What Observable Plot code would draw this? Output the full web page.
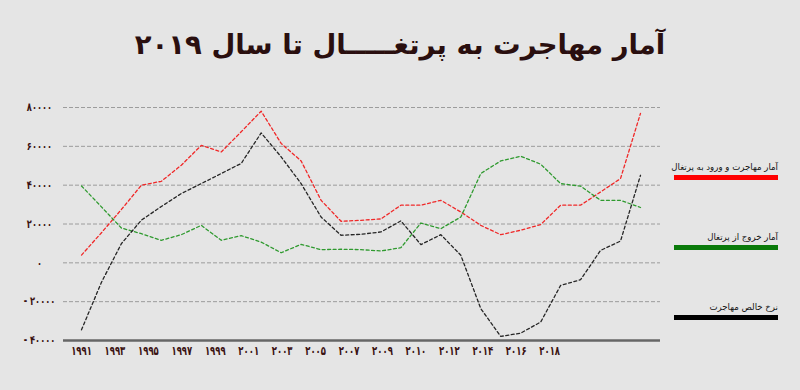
<!DOCTYPE html>
<html><head><meta charset="utf-8">
<script src="https://cdn.jsdelivr.net/npm/d3@7"></script>
<script src="https://cdn.jsdelivr.net/npm/@observablehq/plot@0.6"></script>
<style>
html,body{margin:0;padding:0;background:#e5e5e5;}
#wrap{position:relative;width:800px;height:390px;overflow:hidden;font-family:"DejaVu Sans",sans-serif;}
#title{height:70px;line-height:88px;text-align:center;direction:rtl;font-size:27.5px;font-weight:bold;color:#2a0f0f;}
.leg{position:absolute;left:674px;width:104px;direction:rtl;text-align:right;font-size:8.6px;color:#111;white-space:nowrap;}
.leg .bar{height:5px;margin-top:3px;}
</style></head>
<body><div id="wrap"><div id="title">آمار مهاجرت به پرتغـــــال تا سال ۲۰۱۹</div><div id="chart"></div></div>
<script>
const years = [1991,1992,1993,1994,1995,1996,1997,1998,1999,2000,2001,2002,2003,2004,2005,2006,2007,2008,2009,2010,2011,2012,2013,2014,2015,2016,2017,2018,2019];
const immigration = [4000,15500,27500,40000,42000,50300,60500,57100,67500,78100,61500,52500,32200,21400,21900,22600,29700,29700,32200,26200,19300,14500,16800,19700,29700,29700,36500,43400,77000];
const emigration = [39600,28800,17900,15000,11600,14500,19300,11600,14000,10700,5200,9500,6800,7000,6800,6100,7800,20500,17600,23600,46000,52500,54900,50800,40800,39500,32200,32200,28500];
const netMigration = [-34500,-10000,9900,22000,29000,35700,40800,46000,51200,66900,54600,40800,23600,14200,14700,15900,21600,9400,14500,3900,-23600,-37900,-36200,-30500,-11600,-8700,6400,11200,45100];
const seriesNames = ["آمار مهاجرت و ورود به پرتغال","آمار خروج از پرتغال","نرخ خالص مهاجرت"];
const seriesColors = ["#f02828","#2f9a2f","#262626"];
const legendColors = ["#ff0000","#0a7a0a","#000000"];
const yTicks = [80000,60000,40000,20000,0,-20000,-40000];
const yTickLabels = ["۸۰۰۰۰","۶۰۰۰۰","۴۰۰۰۰","۲۰۰۰۰","۰","- ۲۰۰۰۰","- ۴۰۰۰۰"];
const xLabels = ["۱۹۹۱","۱۹۹۳","۱۹۹۵","۱۹۹۷","۱۹۹۹","۲۰۰۱","۲۰۰۳","۲۰۰۵","۲۰۰۷","۲۰۰۹","۲۰۱۰","۲۰۱۲","۲۰۱۴","۲۰۱۶","۲۰۱۸"];

// the original category axis spaces its 15 labels evenly, not at data years
const xLabelStep = 1.675;
const xTickPos = xLabels.map((d,i)=>years[0] + i*xLabelStep);

const values = [immigration, emigration, netMigration];
const rows = [];
values.forEach((arr,s)=>arr.forEach((v,i)=>rows.push({year:years[i], value:v, series:seriesNames[s]})));

const chart = Plot.plot({
  width: 800, height: 320,
  marginTop: 37, marginBottom: 50, marginLeft: 63, marginRight: 140,
  style: {background: "transparent", fontFamily: "DejaVu Sans, sans-serif"},
  x: {domain: [years[0], years[years.length-1]], insetLeft: 18, insetRight: 20, axis: null},
  y: {domain: [-40000, 80000], axis: null},
  color: {domain: seriesNames, range: seriesColors},
  marks: [
    Plot.ruleY(yTicks.filter(d => d > -40000), {stroke: "#9c9c9c", strokeDasharray: "4,2", strokeWidth: 1}),
    Plot.ruleY([-40000], {stroke: "#666", strokeWidth: 2.5}),
    Plot.axisY({anchor: "left", ticks: yTicks, tickSize: 0, tickPadding: 0, dx: -24, textAnchor: "middle",
      tickFormat: d => yTickLabels[yTicks.indexOf(d)], fontWeight: "bold", fontSize: 11.5, color: "#3a1212", label: null}),
    Plot.axisX({anchor: "bottom", ticks: xTickPos, tickSize: 0, tickPadding: 6,
      tickFormat: d => xLabels[xTickPos.indexOf(d)], fontWeight: "bold", fontSize: 12.5, color: "#3a1212", label: null}),
    Plot.line(rows, {x: "year", y: "value", z: "series", stroke: "series", strokeWidth: 1.3, strokeDasharray: "3,2.5"})
  ]
});
document.getElementById("chart").appendChild(chart);

// narrow the tick-label glyphs horizontally (letter-spacing is ignored for Arabic script)
function squeeze(label, k) {
  chart.querySelectorAll(`g[aria-label="${label}"] text`).forEach(t => {
    const tr = t.getAttribute("transform") || "";
    let x = parseFloat(t.getAttribute("x"));
    if (!isFinite(x)) x = 0;
    t.setAttribute("transform", `${tr} translate(${x},0) scale(${k},1) translate(${-x},0)`);
  });
}
squeeze("x-axis tick label", 0.68);
squeeze("y-axis tick label", 0.72);

const legTops = [162, 232, 302];
const wrap = document.getElementById("wrap");
seriesNames.forEach((n,i)=>{
  const d = document.createElement("div");
  d.className = "leg";
  d.style.top = legTops[i] + "px";
  d.innerHTML = `<div>${n}</div><div class="bar" style="background:${legendColors[i]}"></div>`;
  wrap.appendChild(d);
});
</script></body></html>
